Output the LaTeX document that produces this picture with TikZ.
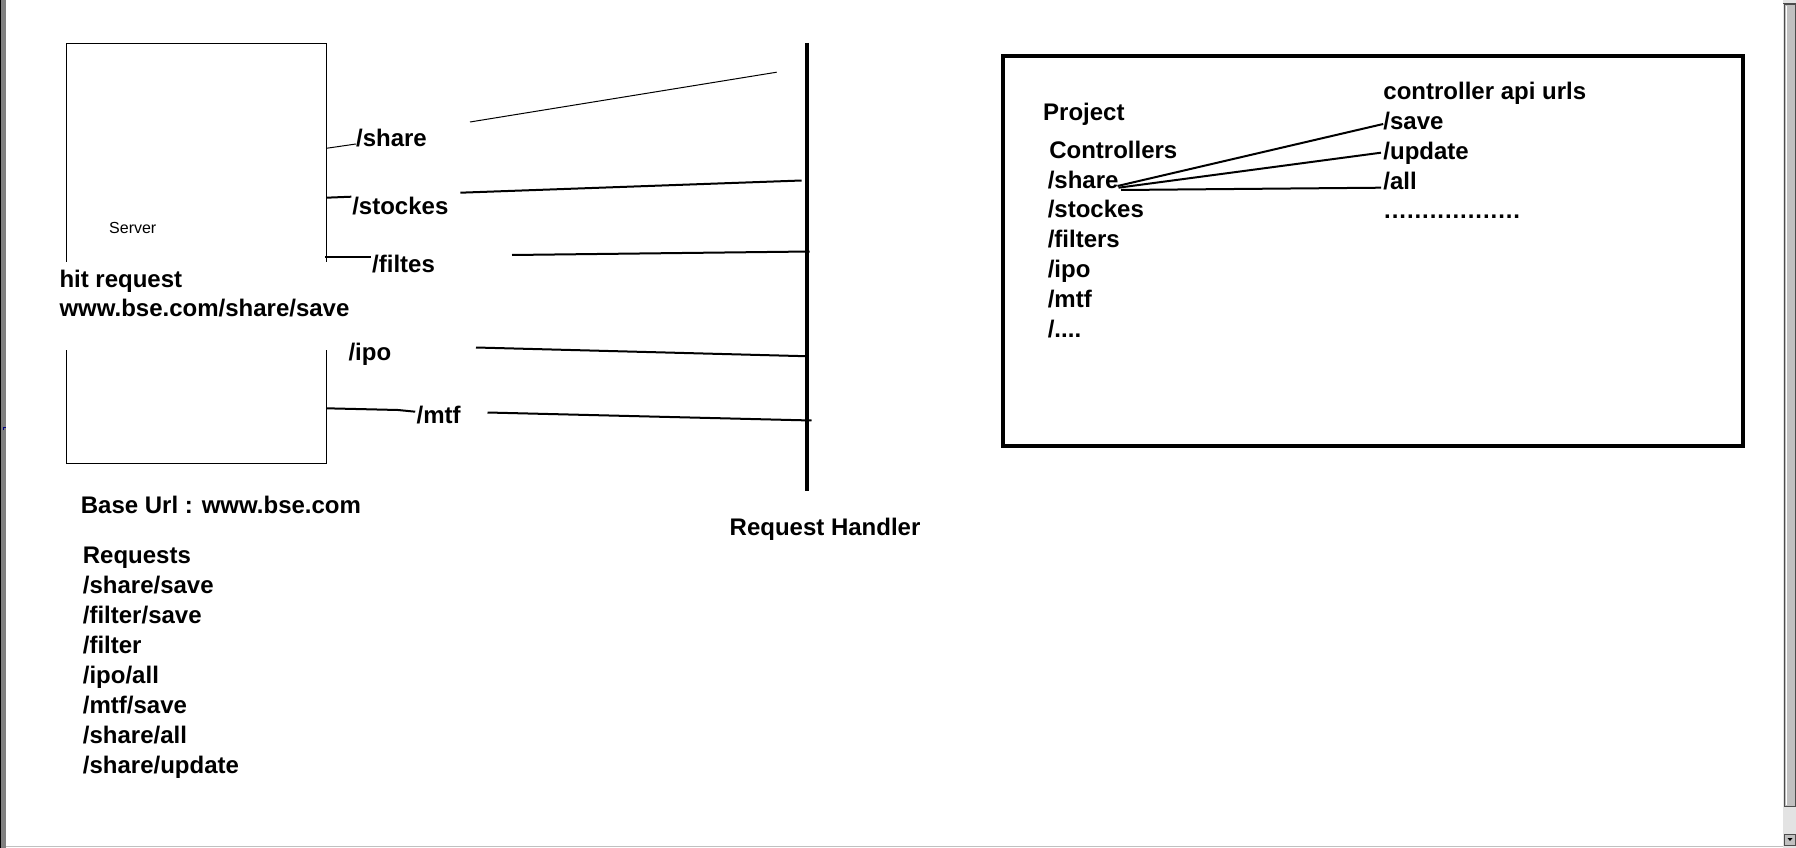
\documentclass[tikz,border=0pt]{standalone}
\usepackage{fontspec}
\setmainfont{Liberation Sans}
\definecolor{sbgray}{HTML}{C0C0C0}
\definecolor{edgegray}{HTML}{808080}
\newcommand\onedot{\makebox[7.6pt][l]{.}}
\begin{document}
\begin{tikzpicture}[x=1pt,y=-1pt,
  lbl/.style={anchor=base west,inner sep=0pt,yshift=-1.2pt,font=\fontsize{24}{30}\selectfont\bfseries},
  small/.style={anchor=base west,inner sep=0pt,font=\fontsize{16}{19}\selectfont},
  thinln/.style={line width=1pt},
  link/.style={line width=2pt},
  heavy/.style={line width=4pt}]
\useasboundingbox (0,0) rectangle (1796,848);
\fill[white] (0,0) rectangle (1796,848);

% window chrome
\fill[black] (0,0) rectangle (1,848);
\fill[edgegray] (1,0) rectangle (6,848);
\draw[blue!50!black,line width=1pt] (3.5,430) -- (3.5,427) -- (6,427);
\draw[sbgray,line width=1pt] (6,846.5) -- (1783,846.5);
\fill[sbgray!45] (1783,0) rectangle (1796,848);
\draw[black!70,line width=1pt] (1783,4) -- (1796,4);
\draw[black!70,fill=sbgray,line width=1pt] (1784.5,5) rectangle (1795.5,806);
\draw[white,line width=1pt] (1786,6) -- (1786,805);
\draw[black!70,fill=sbgray,line width=1pt] (1784.5,834) rectangle (1795.5,845);
\fill[black] (1787.5,838) -- (1792.5,838) -- (1790,841) -- cycle;

% server box
\node[draw,line width=1pt,outer sep=0pt,minimum width=260pt,minimum height=420pt,anchor=north west,inner sep=0pt] (srv) at (66.4,43.3) {};
\node[small] (srvtxt) at (109,233.3) {Server};
\fill[white] (60,262.3) rectangle (332,350);
\node[lbl] (hit1) at (59.3,286) {hit request};
\node[lbl] (hit2) at (59.3,315) {www.bse.com/share/save};

% route labels
\node[lbl] (lshare) at (355.9,145) {/share};
\node[lbl] (lstock) at (352.1,213.3) {/stockes};
\node[lbl] (lfilt) at (372,271.7) {/filtes};
\node[lbl] (lipo) at (348.3,359.3) {/ipo};
\node[lbl] (lmtf) at (416.4,422.7) {/mtf};

% request handler
\coordinate (rhtop) at (807,43);
\coordinate (rhbot) at (807,491);
\draw[heavy] (rhtop) -- (rhbot);
\node[lbl] (rh) at (729.5,534) {Request Handler};

% connector end points
\coordinate (a1) at (srv.east |- 0,148.3);
\coordinate (a2) at (355.9,144);
\coordinate (a3) at (470,122);
\coordinate (a4) at (776.7,72.2);
\coordinate (b1) at (srv.east |- 0,197.7);
\coordinate (b2) at (351.3,196.7);
\coordinate (b3) at (460.4,192.7);
\coordinate (b4) at (801.6,180.5);
\coordinate (c1) at (325.3,256.7);
\coordinate (c2) at (370.5,256.7);
\coordinate (c3) at (512,255);
\coordinate (c4) at (809.5,251.5);
\coordinate (d3) at (476,347.5);
\coordinate (d4) at (805.5,356.2);
\coordinate (e1) at (srv.east |- 0,408.3);
\coordinate (e2) at (398,410);
\coordinate (e3) at (415.2,411.7);
\coordinate (e4) at (487.5,412.5);
\coordinate (e5) at (811.5,420.5);

\draw[thinln] (a1) -- (a2);
\draw[thinln] (a3) -- (a4);
\draw[link] (b1) -- (b2);
\draw[link] (b3) -- (b4);
\draw[link] (c1) -- (c2);
\draw[link] (c3) -- (c4);
\draw[link] (d3) -- (d4);
\draw[link] (e1) -- (e2) -- (e3);
\draw[link] (e4) -- (e5);

% base url and requests
\node[lbl] (base) at (80.7,512.7) {Base Url : www.bse.com};
\node[lbl] (req0) at (82.7,562.7) {Requests};
\node[lbl] (req1) at (82.7,592.7) {/share/save};
\node[lbl] (req2) at (82.7,622.7) {/filter/save};
\node[lbl] (req3) at (82.7,652.7) {/filter};
\node[lbl] (req4) at (82.7,682.7) {/ipo/all};
\node[lbl] (req5) at (82.7,712.7) {/mtf/save};
\node[lbl] (req6) at (82.7,742.7) {/share/all};
\node[lbl] (req7) at (82.7,772.7) {/share/update};

% project box
\node[draw,line width=4pt,outer sep=0pt,minimum width=740.5pt,minimum height=390pt,anchor=north west,inner sep=0pt] (proj) at (1002.5,56) {};
\node[lbl] (pt) at (1043,119.3) {Project};
\node[lbl] (pc) at (1049.1,157.3) {Controllers};
\node[lbl] (pshare) at (1047.6,187.3) {/share};
\node[lbl] (pstock) at (1047.6,216.7) {/stockes};
\node[lbl] (pfilt) at (1047.6,246.7) {/filters};
\node[lbl] (pipo) at (1047.6,276.7) {/ipo};
\node[lbl] (pmtf) at (1047.6,306.7) {/mtf};
\node[lbl] (pmore) at (1047.6,336.7) {/....};

\node[lbl] (api) at (1383.2,98.3) {controller api urls};
\node[lbl] (asave) at (1383.2,128.3) {/save};
\node[lbl] (aupd) at (1383.2,158.3) {/update};
\node[lbl] (aall) at (1383.2,188.3) {/all};
\node[lbl] (adots) at (1384,217.3) {\onedot\onedot\onedot\onedot\onedot\onedot\onedot\onedot\onedot\onedot\onedot\onedot\onedot\onedot\onedot\onedot\onedot\onedot};

\coordinate (s1) at (1117.5,186);
\coordinate (s2) at (1383.2,124);
\coordinate (u1) at (1118.5,187.7);
\coordinate (u2) at (1381,152.7);
\coordinate (l1) at (1121,190);
\coordinate (l2) at (1381,187.7);
\draw[link] (s1) -- (s2);
\draw[link] (u1) -- (u2);
\draw[link] (l1) -- (l2);
\end{tikzpicture}
\end{document}
